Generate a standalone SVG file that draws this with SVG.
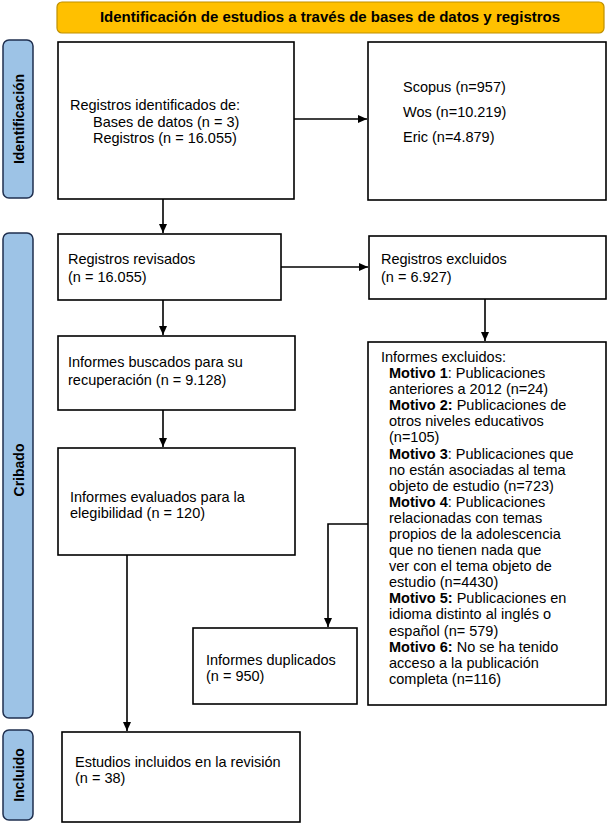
<svg xmlns="http://www.w3.org/2000/svg" width="609" height="826" viewBox="0 0 609 826">
<defs>
<marker id="ah" markerWidth="10" markerHeight="10" refX="9" refY="5" orient="auto" markerUnits="userSpaceOnUse">
<path d="M0,1 L9,5 L0,9 Z" fill="#000"/>
</marker>
<style>
.box{fill:#fff;stroke:#000;stroke-width:1.6}
.t{font-family:"Liberation Sans",Arial,sans-serif;font-size:14.5px;fill:#000}
.b{font-weight:bold}
.h{font-family:"Liberation Sans",Arial,sans-serif;font-size:15px;font-weight:bold;fill:#000;text-anchor:middle}
.side{fill:#9DC3E6;stroke:#1F2F4F;stroke-width:1.5}
.sl{font-family:"Liberation Sans",Arial,sans-serif;font-size:14px;font-weight:bold;fill:#000;text-anchor:middle}
.c{fill:none;stroke:#000;stroke-width:1.6}
</style>
</defs>
<rect width="609" height="826" fill="#fff"/>

<g id="header">
<rect x="57" y="2" width="547" height="31" rx="5" fill="#FFC000" stroke="#BF9000" stroke-width="1.2"/>
<text class="h" x="330" y="22">Identificación de estudios a través de bases de datos y registros</text>
</g>

<g id="lbl-identificacion">
<rect class="side" x="3" y="40" width="30" height="158" rx="6"/>
<text class="sl" transform="translate(24,119) rotate(-90)">Identificación</text>
</g>
<g id="lbl-cribado">
<rect class="side" x="3" y="233" width="30" height="485" rx="6"/>
<text class="sl" transform="translate(24,470) rotate(-90)">Cribado</text>
</g>
<g id="lbl-incluido">
<rect class="side" x="3" y="730" width="30" height="90" rx="6"/>
<text class="sl" transform="translate(24,775) rotate(-90)">Incluido</text>
</g>

<g id="n-identificados">
<rect class="box" x="58" y="42" width="236" height="157"/>
<text class="t" x="70" y="110">Registros identificados de:</text>
<text class="t" x="93" y="127">Bases de datos (n = 3)</text>
<text class="t" x="93" y="143">Registros (n = 16.055)</text>
</g>

<g id="n-bases">
<rect class="box" x="368" y="42" width="238" height="158"/>
<text class="t" x="403" y="92">Scopus (n=957)</text>
<text class="t" x="403" y="117">Wos (n=10.219)</text>
<text class="t" x="403" y="142">Eric (n=4.879)</text>
</g>

<g id="n-revisados">
<rect class="box" x="58" y="234" width="223" height="66"/>
<text class="t" x="68" y="264">Registros revisados</text>
<text class="t" x="68" y="282">(n = 16.055)</text>
</g>

<g id="n-excluidos">
<rect class="box" x="369" y="236" width="237" height="63"/>
<text class="t" x="381" y="264">Registros excluidos</text>
<text class="t" x="381" y="282">(n = 6.927)</text>
</g>

<g id="n-buscados">
<rect class="box" x="58" y="336" width="237" height="74"/>
<text class="t" x="68" y="367">Informes buscados para su</text>
<text class="t" x="68" y="385">recuperación (n = 9.128)</text>
</g>

<g id="n-informes-excluidos">
<rect class="box" x="368" y="342" width="238" height="363"/>
<text class="t" x="381" y="362">Informes excluidos:</text>
<text class="t" x="389" y="378"><tspan class="b">Motivo 1</tspan>: Publicaciones</text>
<text class="t" x="389" y="394">anteriores a 2012 (n=24)</text>
<text class="t" x="389" y="410"><tspan class="b">Motivo 2:</tspan> Publicaciones de</text>
<text class="t" x="389" y="426">otros niveles educativos</text>
<text class="t" x="389" y="442">(n=105)</text>
<text class="t" x="389" y="459"><tspan class="b">Motivo 3</tspan>: Publicaciones que</text>
<text class="t" x="389" y="475">no están asociadas al tema</text>
<text class="t" x="389" y="491">objeto de estudio (n=723)</text>
<text class="t" x="389" y="507"><tspan class="b">Motivo 4</tspan>: Publicaciones</text>
<text class="t" x="389" y="523">relacionadas con temas</text>
<text class="t" x="389" y="539">propios de la adolescencia</text>
<text class="t" x="389" y="555">que no tienen nada que</text>
<text class="t" x="389" y="571">ver con el tema objeto de</text>
<text class="t" x="389" y="587">estudio (n=4430)</text>
<text class="t" x="389" y="603"><tspan class="b">Motivo 5:</tspan> Publicaciones en</text>
<text class="t" x="389" y="619">idioma distinto al inglés o</text>
<text class="t" x="389" y="636">español (n= 579)</text>
<text class="t" x="389" y="652"><tspan class="b">Motivo 6:</tspan> No se ha tenido</text>
<text class="t" x="389" y="668">acceso a la publicación</text>
<text class="t" x="389" y="684">completa (n=116)</text>
</g>

<g id="n-evaluados">
<rect class="box" x="58" y="448" width="237" height="107"/>
<text class="t" x="70" y="502">Informes evaluados para la</text>
<text class="t" x="70" y="518">elegibilidad (n = 120)</text>
</g>

<g id="n-duplicados">
<rect class="box" x="193" y="628" width="164" height="76"/>
<text class="t" x="206" y="665">Informes duplicados</text>
<text class="t" x="206" y="681">(n = 950)</text>
</g>

<g id="n-incluidos">
<rect class="box" x="62" y="732" width="238" height="90"/>
<text class="t" x="75" y="767">Estudios incluidos en la revisión</text>
<text class="t" x="75" y="783">(n = 38)</text>
</g>

<g id="connectors">
<path class="c" d="M294,119 H367" marker-end="url(#ah)"/>
<path class="c" d="M163,199 V233" marker-end="url(#ah)"/>
<path class="c" d="M281,267 H368" marker-end="url(#ah)"/>
<path class="c" d="M163,300 V335" marker-end="url(#ah)"/>
<path class="c" d="M485,299 V341" marker-end="url(#ah)"/>
<path class="c" d="M163,410 V447" marker-end="url(#ah)"/>
<path class="c" d="M368,524 H328 V627" marker-end="url(#ah)"/>
<path class="c" d="M127,555 V731" marker-end="url(#ah)"/>
</g>
</svg>
